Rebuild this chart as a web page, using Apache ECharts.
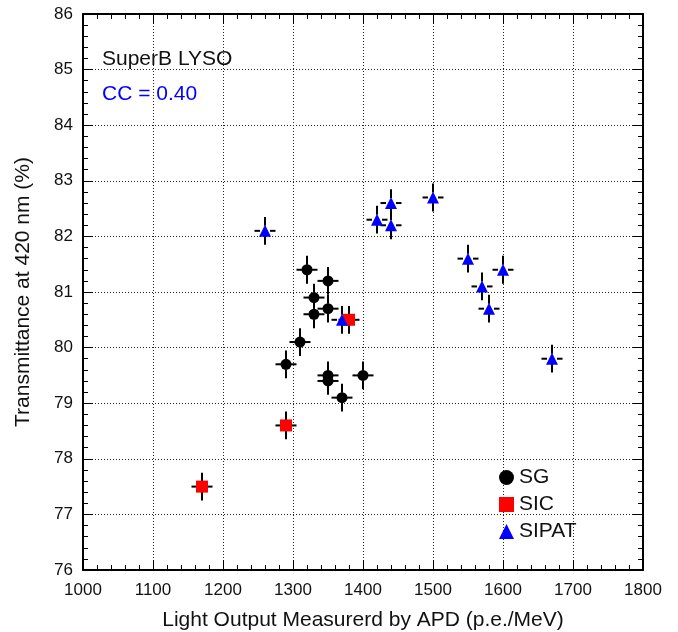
<!DOCTYPE html>
<html>
<head>
<meta charset="utf-8">
<script src="https://cdn.jsdelivr.net/npm/echarts@6/dist/echarts.min.js"></script>
<style>
  html, body { margin: 0; padding: 0; background: #fff; }
  #chart { width: 678px; height: 632px; }
</style>
</head>
<body>
<div id="chart"></div>
<script>
// Light output (p.e./MeV) and transmittance at 420 nm (%) per crystal vendor
const sgLO     = [1320, 1350, 1330, 1350, 1330, 1310, 1290, 1350, 1350, 1400, 1370];
const sgTrans  = [81.4, 81.2, 80.9, 80.7, 80.6, 80.1, 79.7, 79.5, 79.4, 79.5, 79.1];
const sicLO    = [1170, 1290, 1380];
const sicTrans = [77.5, 78.6, 80.5];
const sipatLO    = [1260, 1420, 1440, 1440, 1500, 1550, 1600, 1570, 1580, 1670, 1370];
const sipatTrans = [82.1, 82.3, 82.6, 82.2, 82.7, 81.6, 81.4, 81.1, 80.7, 79.8, 80.5];

// Measurement uncertainties applied to every point
const loErr = [15];
const transErr = [0.25];

const xTicks = [1000, 1100, 1200, 1300, 1400, 1500, 1600, 1700, 1800];
const yTicks = [76, 77, 78, 79, 80, 81, 82, 83, 84, 85, 86];

const FONT = '"Liberation Sans", Arial, Helvetica, sans-serif';

function points(xs, ys) {
  return xs.map((x, i) => [x, ys[i]]);
}
function errPoints(xs, ys) {
  return xs.map((x, i) => [x, ys[i], loErr[0], transErr[0]]);
}

// Error bars drawn outside a small gap around the marker
function renderErr(params, api) {
  const x = api.value(0), y = api.value(1);
  const ex = api.value(2), ey = api.value(3);
  const c = api.coord([x, y]);
  const l = api.coord([x - ex, y]);
  const r = api.coord([x + ex, y]);
  const t = api.coord([x, y + ey]);
  const b = api.coord([x, y - ey]);
  const gap = 5;
  const style = { stroke: '#000', lineWidth: 2 };
  return {
    type: 'group',
    children: [
      { type: 'line', shape: { x1: l[0], y1: c[1], x2: c[0] - gap, y2: c[1] }, style },
      { type: 'line', shape: { x1: c[0] + gap, y1: c[1], x2: r[0], y2: c[1] }, style },
      { type: 'line', shape: { x1: c[0], y1: t[1], x2: c[0], y2: c[1] - gap }, style },
      { type: 'line', shape: { x1: c[0], y1: c[1] + gap, x2: c[0], y2: b[1] }, style }
    ]
  };
}

function errSeries(xs, ys) {
  return {
    type: 'custom',
    renderItem: renderErr,
    data: errPoints(xs, ys),
    encode: { x: 0, y: 1 },
    silent: true,
    z: 2
  };
}

const gridLine = { show: true, lineStyle: { color: '#222', type: [1, 2], width: 1 } };
const frame = { show: true, onZero: false, lineStyle: { color: '#000', width: 2 } };
const tickIn = { show: true, inside: true, length: 10, lineStyle: { color: '#000', width: 1 } };
const minorIn = { show: true, splitNumber: 5, length: 5, lineStyle: { color: '#000', width: 1 } };

const chart = echarts.init(document.getElementById('chart'), null, { renderer: 'canvas' });
chart.setOption({
  backgroundColor: '#fff',
  animation: false,
  textStyle: { fontFamily: FONT },
  grid: { left: 83, right: 35, top: 14, bottom: 62, containLabel: false, outerBoundsMode: 'none' },
  xAxis: [
    {
      type: 'value', position: 'bottom',
      min: xTicks[0], max: xTicks[xTicks.length - 1], interval: 100,
      name: 'Light Output Measurerd by APD (p.e./MeV)',
      nameLocation: 'middle', nameGap: 40,
      nameTextStyle: { fontFamily: FONT, fontSize: 21, color: '#111' },
      axisLine: frame, axisTick: tickIn, minorTick: minorIn,
      splitLine: gridLine,
      axisLabel: { fontFamily: FONT, fontSize: 17, color: '#111', margin: 12,
                   formatter: v => String(v) }
    },
    {
      type: 'value', position: 'top',
      min: xTicks[0], max: xTicks[xTicks.length - 1], interval: 100,
      axisLine: frame, axisTick: tickIn, minorTick: minorIn,
      splitLine: { show: false }, axisLabel: { show: false }
    }
  ],
  yAxis: [
    {
      type: 'value', position: 'left',
      min: yTicks[0], max: yTicks[yTicks.length - 1], interval: 1,
      name: 'Transmittance at 420 nm (%)',
      nameLocation: 'middle', nameGap: 49,
      nameTextStyle: { fontFamily: FONT, fontSize: 21, color: '#111' },
      axisLine: frame, axisTick: tickIn, minorTick: minorIn,
      splitLine: gridLine,
      axisLabel: { fontFamily: FONT, fontSize: 17, color: '#111', margin: 10 }
    },
    {
      type: 'value', position: 'right',
      min: yTicks[0], max: yTicks[yTicks.length - 1], interval: 1,
      axisLine: frame, axisTick: tickIn, minorTick: minorIn,
      splitLine: { show: false }, axisLabel: { show: false }
    }
  ],
  legend: {
    data: ['SG', 'SIC', 'SIPAT'],
    orient: 'vertical',
    left: 494, top: 462,
    itemWidth: 15, itemHeight: 15, itemGap: 6,
    textStyle: { fontFamily: FONT, fontSize: 21, color: '#111' },
    selectedMode: false
  },
  graphic: [
    { type: 'text', left: 102, top: 49,
      style: { text: 'SuperB LYSO', font: '21px ' + FONT, fill: '#111' } },
    { type: 'text', left: 102, top: 84,
      style: { text: 'CC = 0.40', font: '21px ' + FONT, fill: '#0000ff' } }
  ],
  series: [
    errSeries(sgLO, sgTrans),
    errSeries(sicLO, sicTrans),
    errSeries(sipatLO, sipatTrans),
    { name: 'SG', type: 'scatter', symbol: 'circle', symbolSize: 11,
      itemStyle: { color: '#000', opacity: 1 }, data: points(sgLO, sgTrans), z: 3 },
    { name: 'SIC', type: 'scatter', symbol: 'rect', symbolSize: 12,
      itemStyle: { color: '#ff0000', opacity: 1 }, data: points(sicLO, sicTrans), z: 4 },
    { name: 'SIPAT', type: 'scatter', symbol: 'triangle', symbolSize: 12,
      itemStyle: { color: '#0000ff', opacity: 1 }, data: points(sipatLO, sipatTrans), z: 5 }
  ]
});
</script>
</body>
</html>
